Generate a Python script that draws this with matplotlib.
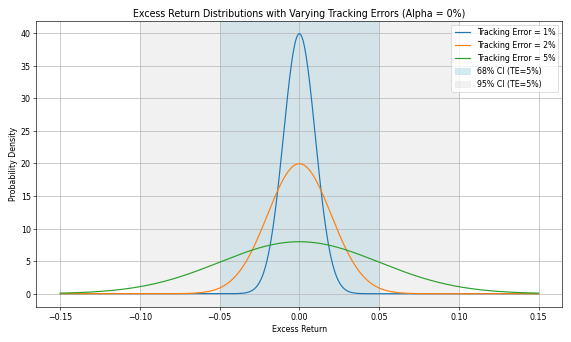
import numpy as np
import matplotlib
matplotlib.use("Agg")
import matplotlib.pyplot as plt

# Data
tracking_errors = [0.01, 0.02, 0.05]
labels = ["Tracking Error = 1%", "Tracking Error = 2%", "Tracking Error = 5%"]
alpha_mean = 0.0
x_range = [-0.15, 0.15]
ci68 = [-0.05, 0.05]
ci95 = [-0.10, 0.10]

x = np.linspace(x_range[0], x_range[1], 1000)

fig, ax = plt.subplots(figsize=(10, 6), dpi=57.1)
for te, lab in zip(tracking_errors, labels):
    y = np.exp(-0.5 * ((x - alpha_mean) / te) ** 2) / (te * np.sqrt(2 * np.pi))
    ax.plot(x, y, label=lab)

ax.axvspan(ci68[0], ci68[1], color='lightblue', alpha=0.5, label='68% CI (TE=5%)')
ax.axvspan(ci95[0], ci95[1], color='lightgray', alpha=0.3, label='95% CI (TE=5%)')

ax.set_title("Excess Return Distributions with Varying Tracking Errors (Alpha = 0%)")
ax.set_xlabel("Excess Return")
ax.set_ylabel("Probability Density")
ax.legend()
ax.grid(True)
fig.tight_layout()
fig.savefig("out.png")
